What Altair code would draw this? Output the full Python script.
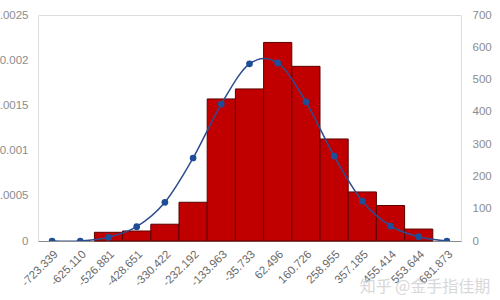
import altair as alt
import pandas as pd

bins = ["-723.339", "-625.110", "-526.881", "-428.651", "-330.422", "-232.192",
        "-133.963", "-35.733", "62.496", "160.726", "258.955", "357.185",
        "455.414", "553.644", "681.873"]
counts = [0, 0, 27, 31, 52, 120, 440, 471, 615, 541, 316, 152, 110, 37, 0]
density = [0, 0, 0.0000406, 0.000158, 0.000428, 0.000918, 0.001515, 0.00196,
           0.00197, 0.00154, 0.00094, 0.000442, 0.000166, 0.0000476, 0]

df = pd.DataFrame({"bin": bins, "count": counts, "density": density})
FONT = "Liberation Sans"
LABEL = "#8c8c8c"

xenc = alt.X("bin:N", sort=bins,
             scale=alt.Scale(paddingInner=0, paddingOuter=0),
             axis=alt.Axis(title=None, labelAngle=-45, ticks=False, grid=False,
                           domainColor="#8a8a8a", labelColor="#6a6a6a",
                           labelFontSize=11.5, labelFont=FONT, labelPadding=7))

bars = alt.Chart(df).transform_filter("datum.count > 0").mark_bar(
    color="#C00000", stroke="#5c0000", strokeWidth=1
).encode(
    x=xenc,
    y=alt.Y("count:Q", scale=alt.Scale(domain=[0, 700]),
            axis=alt.Axis(orient="right", title=None, values=[0, 100, 200, 300, 400, 500, 600, 700],
                          ticks=False, domain=False, grid=False, labelColor=LABEL,
                          labelFontSize=11.5, labelFont=FONT, labelPadding=11)),
)

line = alt.Chart(df).mark_line(
    color="#2E4C8F", strokeWidth=1.5, interpolate="cardinal", clip=True,
    point=alt.OverlayMarkDef(filled=True, color="#1F4E99", size=45, opacity=1)
).encode(
    x=xenc,
    y=alt.Y("density:Q", scale=alt.Scale(domain=[0, 0.0025]),
            axis=alt.Axis(orient="left", title=None,
                          values=[0, 0.0005, 0.001, 0.0015, 0.002, 0.0025],
                          format=".4~f", ticks=False, domain=False, grid=False,
                          labelColor=LABEL, labelFontSize=11.5, labelFont=FONT,
                          labelPadding=10)),
)

wm = alt.Chart(pd.DataFrame({"t": ["知乎 @金手指佳期"]})).mark_text(
    font="Noto Sans CJK SC", fontSize=16, color="#d4d4d4", align="center",
    baseline="middle", opacity=0.9
).encode(x=alt.value(387), y=alt.value(272), text="t:N")

chart = alt.layer(bars, line, wm).resolve_scale(y="independent").properties(
    width=423, height=226,
    autosize=alt.AutoSizeParams(type="none"),
    padding={"left": 38, "top": 15, "right": 39, "bottom": 59},
).configure_view(stroke=None).configure(background="white")

chart.save("out.html", embed_options={"renderer": "svg", "actions": False})
